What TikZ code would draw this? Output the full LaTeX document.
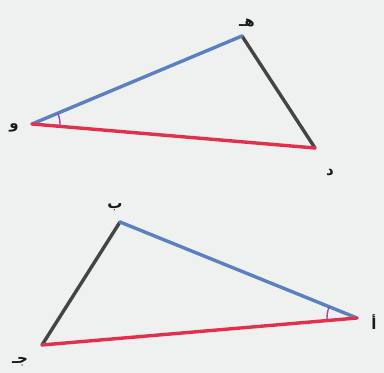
\documentclass[tikz,border=0pt]{standalone}
\usepackage{fontspec}
\usepackage{xcolor}
\usepackage{tikz}
\usetikzlibrary{angles,positioning}
\TeXXeTstate=1
\newfontfamily\arabicfont[Script=Arabic]{DejaVu Sans}
\definecolor{sideblue}{HTML}{5A80C2}
\definecolor{sidered}{HTML}{E2304C}
\definecolor{sidegray}{HTML}{444444}
\definecolor{arcpink}{HTML}{A0449E}
\definecolor{paper}{HTML}{EFF0F0}

\tikzset{
  side/.style={line width=3.4pt, line cap=round},
  lbl/.style={font=\arabicfont\bfseries\fontsize{15}{16}\selectfont, text=black!90, inner sep=1pt},
  ang/.style={draw=arcpink, line width=1.4pt, angle radius=28pt}
}

\begin{document}
\begin{tikzpicture}[x=1pt,y=1pt]
        \fill[paper] (0,0) rectangle (384,373);
        \useasboundingbox (0,0) rectangle (384,373);

        % first triangle
        \coordinate (w) at (32,249);
        \coordinate (h) at (242,337);
        \coordinate (d) at (315,225);
        \draw[side, sidegray] (h) -- (d);
        \draw[side, sideblue] (w) -- (h);
        \draw[side, sidered] (w) -- (d);
        \pic[ang] {angle = d--w--h};
        \node[lbl] (lw) at (14,245) {\beginR و\endR};
        \node[lbl] (lh) at (247,350) {\beginR هـ\endR};
        \node[lbl] (ld) at (330,200) {\beginR د\endR};

        % second triangle
        \coordinate (b) at (120,151);
        \coordinate (a) at (357,55);
        \coordinate (j) at (42,28);
        \draw[side, sidegray] (b) -- (j);
        \draw[side, sideblue] (b) -- (a);
        \draw[side, sidered] (j) -- (a);
        \pic[ang, angle radius=30pt] {angle = b--a--j};
        \node[lbl] (lb) at (115,166) {\beginR ب\endR};
        \node[lbl] (la) at (374,51) {\beginR أ\endR};
        \node[lbl] (lj) at (20,11) {\beginR جـ\endR};
    \end{tikzpicture}
\end{document}
